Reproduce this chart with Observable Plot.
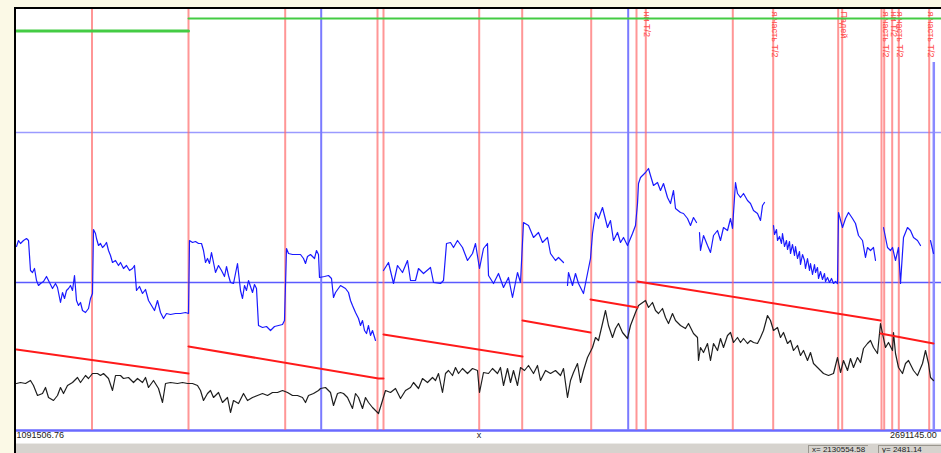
<!DOCTYPE html>
<html>
<head>
<meta charset="utf-8">
<script src="https://cdn.jsdelivr.net/npm/d3@7"></script>
<script src="https://cdn.jsdelivr.net/npm/@observablehq/plot@0.6"></script>
<style>
  html, body { margin: 0; padding: 0; }
  body { width: 941px; height: 453px; overflow: hidden; background: #fbf9e6; position: relative;
         font-family: "Liberation Sans", Arial, sans-serif; }
  #panel { position: absolute; left: 16px; top: 9px; width: 925px; height: 434px; background: #fff; }
  #chart { position: absolute; left: 0; top: 0; }
  #edgeL { position: absolute; left: 14px; top: 7px; width: 2px; height: 446px; background: #000; }
  #edgeT { position: absolute; left: 14px; top: 7px; width: 927px; height: 2px; background: #000; }
  #status { position: absolute; left: 16px; top: 443px; width: 925px; height: 10px; background: #d6d3ce;
            border-top: 1px solid #ecebe8; box-sizing: border-box; }
  .cell { position: absolute; top: 1px; height: 9px; border-top: 1px solid #9a978f; border-left: 1px solid #9a978f;
          font-size: 8px; line-height: 8px; color: #222; padding-left: 3px; box-sizing: border-box; white-space: nowrap; }
</style>
</head>
<body>
<div id="panel"></div>
<div id="chart"></div>
<div id="edgeL"></div>
<div id="edgeT"></div>
<div id="status"></div>
<script>
// x: bar number across the session, y: level in points above the base line
const xTickLabels = ["1091506.76", "2691145.00"];
const xTickBars = [0, 917.3];
const xAxisName = "x";
const cursorReadout = ["x= 2130554.58", "y= 2481.14"];

// blue indicator, drawn as separate runs (bar, level, bar, level, ...)
const blueRuns = [
  [0,184, 2,190, 4,187, 7,190, 10,192, 12,190, 14,160, 16,158, 18,162, 20,150, 22,145, 24,147, 27,149, 30,154,
   32,150, 34,146, 36,142, 39,147, 41,143, 44,128, 46,138, 48,132, 50,140, 52,142, 54,145, 56,140, 58,155, 60,130,
   62,125, 64,128, 66,120, 69,118, 72,122, 74,132, 76,137, 77,201, 79,197, 80,192, 82,185, 84,187, 86,183, 88,185,
   90,188, 92,180, 94,175, 96,168, 99,170, 102,165, 104,168, 107,162, 110,165, 113,160, 116,162, 118,165, 120,140,
   123,144, 126,137, 129,141, 132,130, 135,125, 138,120, 141,130, 144,118, 147,112, 150,117, 154,116, 159,117,
   164,117, 169,118, 172,117, 173,190, 176,188, 179,189, 182,187, 185,187, 187,180, 189,168, 191,172, 193,167,
   195,178, 197,168, 199,158, 202,165, 205,160, 208,154, 210,164, 212,155, 214,148, 217,147, 220,162, 221,167,
   224,140, 226,132, 228,145, 230,140, 232,150, 236,138, 238,146, 240,142, 242,105, 246,103, 250,104, 254,100,
   258,104, 262,105, 266,106, 268,110, 270,182, 272,177, 276,176, 280,176, 284,176, 287,172, 289,167, 291,174,
   294,176, 298,172, 300,180, 302,176, 303,153, 308,154, 312,155, 315,152, 317,133, 319,138, 324,145, 329,142,
   332,138, 334,130, 336,125, 339,118, 342,112, 344,105, 346,110, 348,100, 350,97, 352,105, 354,95, 356,100, 359,90],
  [367,160, 372,168, 377,147, 381,165, 386,158, 391,170, 394,150, 399,150, 402,162, 407,157, 414,163, 417,148,
   424,147, 427,150, 430,187, 434,188, 437,183, 441,190, 446,183, 451,170, 456,177, 459,187, 463,162, 467,182,
   471,187, 472,155, 477,147, 482,157, 487,143, 492,153, 496,133, 501,158, 504,148, 507,208, 512,205, 517,193,
   522,198, 526,188, 531,193, 534,177, 539,170, 542,173, 547,168],
  [551,145, 552,158, 556,145, 559,157, 562,147, 567,137, 571,157, 574,172, 576,197, 579,218, 582,212, 586,223,
   591,203, 594,210, 597,190, 601,198, 604,188, 607,193, 611,185, 616,197, 619,205, 621,227, 622,247, 624,253,
   629,258, 632,262, 634,255, 637,245, 641,248, 644,240, 647,247, 651,233, 654,227, 657,240, 659,222, 664,218,
   667,217, 671,212, 674,205, 677,213, 680,208],
  [683,198, 684,180, 687,195, 691,185, 694,178, 697,195, 701,200, 704,190, 707,203, 711,200, 714,212, 716,202,
   719,248, 721,237, 724,233, 727,237, 731,230, 734,227, 737,220, 741,217, 744,210, 746,225, 748,228],
  [757,205, 758,196, 760,201, 761,190, 763,194, 765,187, 766,197, 768,184, 770,190, 771,181, 773,189, 774,177,
   776,186, 778,175, 779,184, 781,172, 783,179, 784,166, 786,176, 788,170, 789,162, 791,172, 793,160, 794,167,
   796,156, 798,166, 799,158, 801,163, 802,152, 804,159, 806,151, 808,157, 809,149, 811,153, 813,148, 815,152,
   817,147, 819,149, 821,147, 822,218, 826,203, 829,212, 832,218, 836,212, 839,207, 842,195, 846,190, 849,173,
   851,183, 854,180, 857,183, 859,170],
  [867,203, 871,183, 874,180, 876,183, 879,170, 882,183, 884,147, 887,193, 891,203, 894,200, 897,193, 901,190, 904,185],
  [914,190, 917,177]
];

// black price series (bar, level, ...)
const priceSeries = [
  0,47, 4,48, 9,47, 14,50, 17,45, 21,35, 26,37, 29,43, 32,33, 37,30, 41,35, 44,43, 47,37, 51,45, 56,48, 61,53,
  64,48, 69,55, 72,52, 76,57, 81,57, 84,55, 87,57, 92,52, 96,40, 99,55, 104,55, 107,52, 112,53, 117,48, 121,52,
  126,48, 129,53, 132,43, 137,50, 142,42, 146,28, 149,47, 154,48, 161,47, 166,48, 171,47, 176,47, 181,45, 184,40,
  187,30, 191,37, 194,40, 197,33, 202,38, 206,28, 211,33, 214,18, 217,30, 222,27, 227,37, 231,30, 236,33, 241,35,
  246,37, 251,35, 256,38, 261,38, 266,40, 271,38, 276,35, 281,35, 286,33, 289,28, 292,35, 297,37, 302,40, 304,42,
  309,43, 314,38, 317,25, 321,37, 324,38, 327,37, 331,33, 336,22, 339,37, 342,33, 346,22, 349,33, 352,28, 356,23,
  359,20, 362,17, 366,30, 369,40, 374,38, 379,42, 384,32, 389,40, 394,43, 397,48, 402,42, 406,52, 411,48, 416,53,
  419,50, 422,57, 426,38, 429,57, 432,60, 436,55, 439,63, 442,57, 446,62, 451,57, 456,62, 461,60, 463,38, 467,58,
  472,57, 476,62, 481,57, 484,63, 487,45, 491,62, 494,48, 497,60, 501,45, 504,63, 508,60, 512,65, 517,57, 521,65,
  524,50, 529,60, 534,57, 539,60, 544,55, 547,62, 551,33, 554,50, 557,58, 561,67, 564,48, 567,60, 571,73, 576,83,
  579,93, 582,90, 586,107, 589,120, 592,105, 596,93, 599,102, 602,107, 606,98, 611,92, 614,105, 619,118, 622,125,
  629,130, 632,123, 636,128, 639,120, 642,117, 646,122, 649,113, 652,107, 656,117, 659,110, 664,105, 669,102,
  672,107, 677,97, 681,93, 682,70, 684,83, 687,78, 691,87, 694,70, 697,87, 701,80, 704,92, 707,83, 711,95, 714,98,
  717,88, 721,93, 724,88, 727,92, 731,87, 734,90, 737,88, 741,87, 744,93, 747,100, 751,115, 754,110, 757,100,
  761,103, 764,93, 767,98, 771,87, 774,90, 777,80, 781,85, 784,75, 787,80, 791,70, 794,78, 797,67, 802,62, 807,57,
  812,55, 817,57, 821,73, 824,58, 827,70, 831,60, 834,72, 837,63, 841,73, 844,68, 847,82, 851,87, 854,90, 857,83,
  861,77, 864,107, 866,97, 869,83, 872,88, 876,80, 877,98, 879,77, 882,63, 886,57, 889,67, 892,70, 897,60, 901,55,
  906,67, 909,80, 912,67, 914,53, 917,50
];

// red declining level, one run per period (bar, level, ...)
const redRuns = [
  [0,81, 172,57],
  [172,84, 362,52, 367,52],
  [367,96, 506,74],
  [506,110, 574,98],
  [574,131, 621,123],
  [621,149, 864,110],
  [864,97, 917,87]
];

// green upper band: [start bar, end bar, level]
const greenRuns = [[0, 172, 399.5], [172, 925, 412]];

// period markers
const redEvents = [75.5, 172, 268.7, 361, 367, 462.7, 505.7, 574.7, 620, 629.3, 716.3, 756.7, 821.7, 825.7, 865, 867.7, 875.7, 882.3, 912.7];
const redEventText = ["", "", "", "", "", "", "", "", "", "ни Т/2", "", "я часть Т/2", "", "Падей", "", "я часть Т/2", "ни Т/2", "я часть Т/2", "я часть Т/2"];
const blueEvents = [304.7, 611.7];
const lastBar = 917.3;
const lastBarTop = 368;
const guideLevels = [298, 148];

const toRows = (flat, run) => {
  const rows = [];
  for (let i = 0; i < flat.length; i += 2) rows.push({bar: flat[i], level: flat[i + 1], run});
  return rows;
};
const blueRows = blueRuns.flatMap((r, i) => toRows(r, i));
const priceRows = toRows(priceSeries, 0);
const redRows = redRuns.flatMap((r, i) => toRows(r, i));
const greenRows = greenRuns.flatMap(([a, b, v], i) => [{bar: a, level: v, run: i}, {bar: b, level: v, run: i}]);
const eventRows = redEvents.map((bar, i) => ({bar, text: redEventText[i]}));

const chart = Plot.plot({
  width: 941,
  height: 443,
  marginLeft: 16,
  marginRight: 0,
  marginTop: 9,
  marginBottom: 13,
  x: {domain: [0, 925], axis: null},
  y: {domain: [0, 421], axis: null},
  style: {background: "transparent", overflow: "visible", fontFamily: "'Liberation Sans', Arial, sans-serif"},
  marks: [
    Plot.ruleY(guideLevels, {stroke: (d, i) => i === 0 ? "#9a9aff" : "#5a5aff", strokeWidth: 1.5}),
    Plot.ruleY([0], {stroke: "#6a6aff", strokeWidth: 2.5}),
    Plot.ruleX(eventRows, {x: "bar", stroke: "#ff6a6a", strokeOpacity: 0.7, strokeWidth: 2}),
    Plot.ruleX(blueEvents, {stroke: "#7a7aff", strokeWidth: 2}),
    Plot.ruleX([lastBar], {y1: 0, y2: lastBarTop, stroke: "#8a8aff", strokeWidth: 2.5}),
    Plot.text(eventRows.filter(d => d.text), {
      x: "bar", text: "text", frameAnchor: "top", rotate: 90, textAnchor: "start",
      dx: 5, dy: 2, fill: "#ff4a4a", fontSize: 9
    }),
    Plot.line(greenRows, {x: "bar", y: "level", z: "run", stroke: "#44cc44", strokeWidth: (d) => d.run === 0 ? 3 : 2}),
    Plot.line(priceRows, {x: "bar", y: "level", stroke: "#1e1e1e", strokeWidth: 1.2}),
    Plot.line(redRows, {x: "bar", y: "level", z: "run", stroke: "#ff1a1a", strokeWidth: 2}),
    Plot.line(blueRows, {x: "bar", y: "level", z: "run", stroke: "#1a1aff", strokeWidth: 1.2}),
    Plot.text([xTickLabels[0]], {x: xTickBars[0], frameAnchor: "bottom", dy: 7, textAnchor: "start", fontSize: 9, fill: "#222"}),
    Plot.text([xTickLabels[1]], {x: xTickBars[1], frameAnchor: "bottom", dy: 7, dx: 3, textAnchor: "end", fontSize: 9, fill: "#222"}),
    Plot.text([xAxisName], {frameAnchor: "bottom", dy: 7, fontSize: 9, fill: "#222"})
  ]
});
document.getElementById("chart").append(chart);

const status = document.getElementById("status");
const cells = [{left: 792, width: 60}, {left: 862, width: 63}];
cursorReadout.forEach((t, i) => {
  const c = document.createElement("div");
  c.className = "cell";
  c.style.left = cells[i].left + "px";
  c.style.width = cells[i].width + "px";
  c.textContent = t;
  status.append(c);
});
</script>
</body>
</html>
